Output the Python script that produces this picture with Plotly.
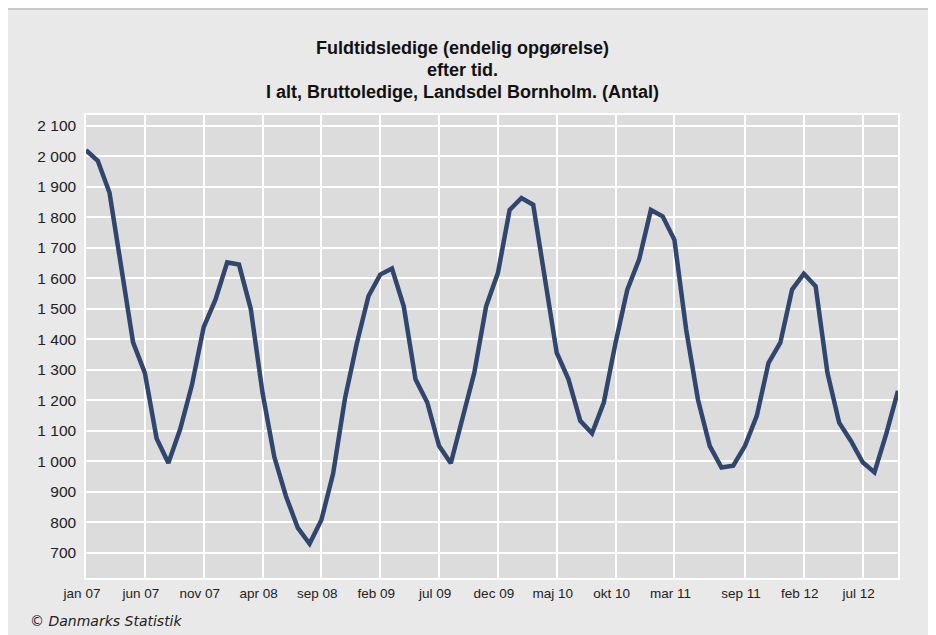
import plotly.graph_objects as go

# ---- data ----
month_names = ["jan", "feb", "mar", "apr", "maj", "jun", "jul", "aug", "sep", "okt", "nov", "dec"]
years = ["07", "08", "09", "10", "11", "12"]
months = [f"{m} {y}" for y in years for m in month_names][:70]  # jan 07 .. okt 12

values = [2020, 1985, 1880, 1645, 1390, 1290, 1075, 995, 1105, 1250, 1440, 1530,
          1652, 1645, 1500, 1225, 1015, 885, 782, 730, 808, 960, 1205, 1385,
          1541, 1612, 1632, 1508, 1269, 1193, 1051, 994, 1149, 1291, 1508, 1617,
          1824, 1863, 1841, 1607, 1356, 1269, 1133, 1092, 1193, 1389, 1563, 1661,
          1824, 1803, 1726, 1432, 1203, 1051, 980, 986, 1051, 1149, 1323, 1389,
          1563, 1615, 1574, 1291, 1127, 1067, 997, 964, 1090, 1231]

x_ticks = ["jan 07", "jun 07", "nov 07", "apr 08", "sep 08", "feb 09", "jul 09",
           "dec 09", "maj 10", "okt 10", "mar 11", "sep 11", "feb 12", "jul 12"]
y_ticks = [700, 800, 900, 1000, 1100, 1200, 1300, 1400, 1500, 1600, 1700, 1800, 1900, 2000, 2100]

title_lines = ["Fuldtidsledige (endelig opgørelse)", "efter tid.",
               "I alt, Bruttoledige, Landsdel Bornholm. (Antal)"]
source = "© Danmarks Statistik"

FONT = "Liberation Sans, Arial, sans-serif"
W, H = 928, 627
L, R, T, B = 78, 38, 107, 57
PW, PH = W - L - R, H - T - B


def px_x(px):  # figure pixel -> paper x
    return (px - L) / PW


def px_y(py):  # figure pixel (from top) -> paper y
    return (PH + T - py) / PH


fig = go.Figure(go.Scatter(
    x=months, y=values, mode="lines",
    line=dict(color="#30466e", width=4.5),
    hoverinfo="x+y",
))

annotations = []
for k, line in enumerate(title_lines):
    annotations.append(dict(text=f"<b>{line}</b>", xref="paper", yref="paper",
                            x=px_x(454), y=px_y(40 + 22 * k),
                            xanchor="center", yanchor="middle", showarrow=False,
                            font=dict(family=FONT, size=18, color="#111111")))
annotations.append(dict(text=source, xref="paper", yref="paper",
                        x=px_x(20), y=px_y(613),
                        xanchor="left", yanchor="middle", showarrow=False,
                        font=dict(family="DejaVu Sans, Verdana, sans-serif", size=14,
                                  color="#222222", style="italic")))

fig.update_layout(
    width=W, height=H,
    margin=dict(l=L, r=R, t=T, b=B),
    paper_bgcolor="#e9e9e9",
    plot_bgcolor="#dcdcdc",
    separators=", ",
    showlegend=False,
    font=dict(family=FONT, size=13, color="#222222"),
    xaxis=dict(type="category", range=[0, len(months) - 1],
               tickvals=x_ticks, ticktext=x_ticks,
               showgrid=True, gridcolor="white", gridwidth=1.5,
               showline=True, linecolor="white", linewidth=1.5, mirror=True,
               zeroline=False, ticks="", ticklabelshift=-4, ticklabelstandoff=2,
               tickfont=dict(size=13.5, color="#222222")),
    yaxis=dict(range=[618, 2135], tickvals=y_ticks, separatethousands=True,
               showgrid=True, gridcolor="white", gridwidth=1.5,
               showline=True, linecolor="white", linewidth=1.5, mirror=True,
               zeroline=False, ticks="", ticklabelstandoff=5,
               tickfont=dict(size=15.5, color="#222222")),
    shapes=[dict(type="rect", xref="paper", yref="paper", layer="below",
                 x0=px_x(-1), x1=px_x(W + 20),
                 y0=px_y(H + 20), y1=px_y(1),
                 fillcolor="rgba(0,0,0,0)", line=dict(color="#c8c8c8", width=2))],
    annotations=annotations,
)

fig.write_html("out.html")
